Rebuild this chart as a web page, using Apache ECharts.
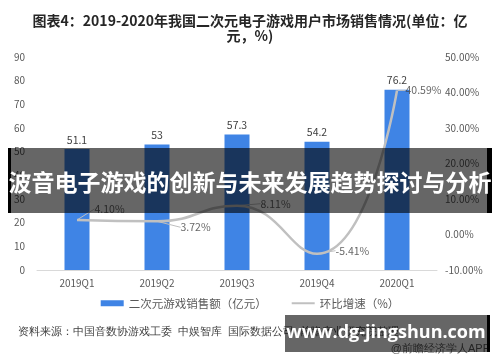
<!DOCTYPE html>
<html><head><meta charset="utf-8">
<script src="https://cdn.jsdelivr.net/npm/echarts@6/dist/echarts.min.js"></script>
<style>html,body{margin:0;padding:0;background:#fff}#c{width:500px;height:362px}</style>
</head><body><div id="c"></div>
<script>
var categories = ['2019Q1','2019Q2','2019Q3','2019Q4','2020Q1'];
var salesValues = [51.1, 53, 57.3, 54.2, 76.2];
var growthValues = [4.10, 3.72, 8.11, -5.41, 40.59];
var leftTicks = [0, 90, 10];
var rightTicks = [-10, 50, 10];
var titleText = '图表4：2019-2020年我国二次元电子游戏用户市场销售情况(单位：亿\n元，%)';
var seriesNames = ['二次元游戏销售额（亿元）', '环比增速（%）'];
var sourceText = '资料来源：中国音数协游戏工委  中娱智库  国际数据公司  前瞻产业研究院整理';
var creditText = '@前瞻经济学人APP';
var bannerText = '波音电子游戏的创新与未来发展趋势探讨与分析';
var siteText = 'www.dg-jingshun.com';
var labelShift = [[14,-11],[20,6],[20,-2],[15,-3],[5,0]];

var chart = echarts.init(document.getElementById('c'));
var font = 'Microsoft YaHei, "Noto Sans CJK SC", sans-serif';
chart.setOption({
  animation: false,
  textStyle: {fontFamily: font},
  title: {text: titleText, left: 'center', top: 8,
    textStyle: {fontSize: 14, fontWeight: 'bold', color: '#262626', lineHeight: 15, fontFamily: font}},
  grid: {left: 37, right: 63, top: 57, bottom: 92},
  legend: {bottom: 48, left: 'center', itemGap: 24, itemWidth: 23, itemHeight: 6,
    textStyle: {fontSize: 11.5, color: '#595959'},
    data: [{name: seriesNames[0], icon: 'rect'},
           {name: seriesNames[1], itemStyle: {opacity: 0}}]},
  xAxis: {type: 'category', data: categories,
    axisLine: {lineStyle: {color: '#d9d9d9'}}, axisTick: {show: false},
    axisLabel: {color: '#595959', fontSize: 10, margin: 8}},
  yAxis: [
    {type: 'value', min: leftTicks[0], max: leftTicks[1], interval: leftTicks[2],
     splitLine: {show: false}, axisLabel: {color: '#595959', fontSize: 10, margin: 12}},
    {type: 'value', min: rightTicks[0], max: rightTicks[1], interval: rightTicks[2],
     splitLine: {show: false}, axisLabel: {color: '#595959', fontSize: 10, margin: 8,
       formatter: function(v){return v.toFixed(2)+'%';}}}
  ],
  series: [
    {name: seriesNames[0], type: 'bar', data: salesValues, barWidth: 25,
     itemStyle: {color: '#3f84e5'},
     label: {show: true, position: 'top', color: '#404040', fontSize: 10.5, distance: 4}},
    {name: seriesNames[1], type: 'line', yAxisIndex: 1, data: growthValues, smooth: 0.5,
     symbol: 'none', lineStyle: {color: '#c0c0c0', width: 2.5}, itemStyle: {color: '#c0c0c0'}},
    {name: 'labels', type: 'scatter', yAxisIndex: 1, data: growthValues, symbolSize: 1,
     itemStyle: {color: 'rgba(0,0,0,0)'}, silent: true,
     label: {show: true, position: 'right', color: '#404040', fontSize: 10.5, distance: 3,
       formatter: function(p){return p.value.toFixed(2)+'%';}},
     labelLine: {show: true, lineStyle: {color: '#bfbfbf', width: 1}},
     labelLayout: function(p){var s = labelShift[p.dataIndex]; return {dx: s[0], dy: s[1]};}}
  ],
  graphic: [
    {type: 'text', left: 18, top: 326, style: {text: sourceText, fontSize: 11, fill: '#404040', font: '11.5px ' + font}},
    {type: 'text', right: 10, top: 343, style: {text: creditText, fontSize: 11, fill: '#595959', font: '11px ' + font}},
    {type: 'rect', shape: {x: 8, y: 148, width: 484, height: 65}, style: {fill: 'rgba(0,0,0,0.6)'}, z: 100},
    {type: 'rect', shape: {x: 8, y: 148, width: 3, height: 65}, style: {fill: '#000'}, z: 101},
    {type: 'rect', shape: {x: 487, y: 148, width: 5, height: 65}, style: {fill: '#000'}, z: 101},
    {type: 'text', x: 250, y: 182, style: {text: bannerText, fill: '#fff', align: 'center', verticalAlign: 'middle',
       font: 'bold 23px ' + font}, z: 102},
    {type: 'rect', shape: {x: 285, y: 315, width: 205, height: 37}, style: {fill: 'rgba(0,0,0,0.6)'}, z: 100},
    {type: 'rect', shape: {x: 487, y: 315, width: 3, height: 37}, style: {fill: '#000'}, z: 101},
    {type: 'text', x: 386, y: 333, style: {text: siteText, fill: '#fff', align: 'center', verticalAlign: 'middle',
       font: 'bold 18px "Open Sans", "DejaVu Sans", sans-serif'}, z: 102}
  ]
});
</script></body></html>
